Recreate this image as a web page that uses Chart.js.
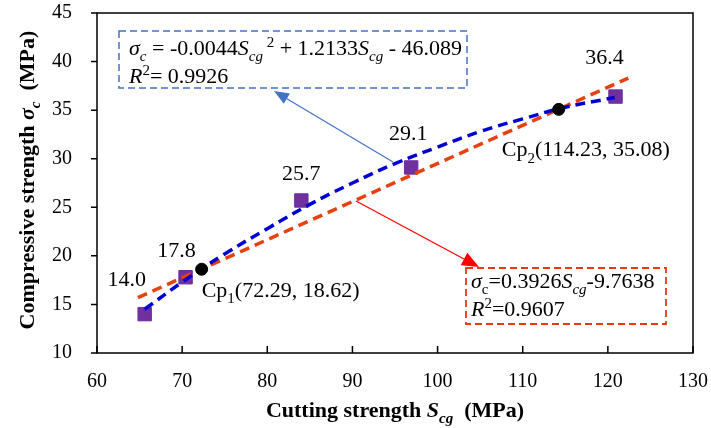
<!DOCTYPE html>
<html>
<head>
<meta charset="utf-8">
<script src="https://cdn.jsdelivr.net/npm/chart.js@4.4.0/dist/chart.umd.min.js"></script>
<style>
  html, body { margin: 0; padding: 0; background: #fff; }
  #wrap { width: 711px; height: 428px; }
</style>
</head>
<body>
<div id="wrap"><canvas id="myChart"></canvas></div>
<script>
'use strict';

// DANE

var cuttingStrength = [65.6, 70.4, 84.0, 96.9, 120.9];
var compressiveStrength = [14.0, 17.8, 25.7, 29.1, 36.4];
var valueLabels = ['14.0', '17.8', '25.7', '29.1', '36.4'];

// quadratic fit (blue)
var quadX = [65.6, 70, 75, 80, 85, 90, 95, 100, 105, 110, 115, 120.8];
var quadY = [14.5, 17.3, 20.2, 22.8, 25.3, 27.5, 29.5, 31.2, 32.8, 34.1, 35.3, 36.3];

// linear fit (red)
var linX = [64.8, 122.4];
var linY = [15.7, 38.3];

// critical points
var cpX = [72.29, 114.23];
var cpY = [18.62, 35.08];
var cpNames = ['1', '2'];

var xTicks = [60, 70, 80, 90, 100, 110, 120, 130];
var yTicks = [10, 15, 20, 25, 30, 35, 40, 45];

var FONT = "'Liberation Serif', 'Times New Roman', serif";
var NOTE = 22;

function toPoints(xs, ys) {
  return xs.map(function(x, i) { return { x: x, y: ys[i] }; });
}

// rich text: runs of {t, f, s}
function drawRich(ctx, runs, x, y, size, align) {
  var sub = Math.round(size * 0.68);
  function fontOf(r) {
    var sz = r.s ? sub : size;
    return (r.f || '') + ' ' + sz + 'px ' + FONT;
  }
  var total = 0;
  runs.forEach(function(r) {
    ctx.font = fontOf(r);
    total += ctx.measureText(r.t).width;
  });
  var cx = x;
  if (align === 'center') cx = x - total / 2;
  ctx.textAlign = 'left';
  ctx.textBaseline = 'alphabetic';
  runs.forEach(function(r) {
    ctx.font = fontOf(r);
    var dy = 0;
    if (r.s === 'sub') dy = size * 0.28;
    if (r.s === 'sup') dy = -size * 0.38;
    ctx.fillText(r.t, cx, y + dy);
    cx += ctx.measureText(r.t).width;
  });
  return total;
}

function arrow(ctx, x1, y1, x2, y2, color, lw, len, half) {
  var a = Math.atan2(y2 - y1, x2 - x1);
  var bx = x2 - Math.cos(a) * len, by = y2 - Math.sin(a) * len;
  ctx.save();
  ctx.strokeStyle = color;
  ctx.fillStyle = color;
  ctx.lineWidth = lw;
  ctx.beginPath();
  ctx.moveTo(x1, y1);
  ctx.lineTo(bx, by);
  ctx.stroke();
  ctx.beginPath();
  ctx.moveTo(x2, y2);
  ctx.lineTo(bx + Math.sin(a) * half, by - Math.cos(a) * half);
  ctx.lineTo(bx - Math.sin(a) * half, by + Math.cos(a) * half);
  ctx.closePath();
  ctx.fill();
  ctx.restore();
}

// ramka i ticki
var framePlugin = {
  id: 'frame',
  beforeDatasetsDraw: function(chart) {
    var ctx = chart.ctx, a = chart.chartArea;
    var xs = chart.scales.x, ys = chart.scales.y;
    ctx.save();
    ctx.strokeStyle = '#000';
    ctx.lineWidth = 1.5;
    ctx.strokeRect(a.left, a.top, a.right - a.left, a.bottom - a.top);
    ctx.beginPath();
    yTicks.forEach(function(v) {
      var py = ys.getPixelForValue(v);
      ctx.moveTo(a.left - 6, py);
      ctx.lineTo(a.left, py);
    });
    xTicks.forEach(function(v) {
      var px = xs.getPixelForValue(v);
      ctx.moveTo(px, a.bottom);
      ctx.lineTo(px, a.bottom - 7);
    });
    ctx.stroke();
    ctx.restore();
  }
};

// opisy, ramki rownan, strzalki
var notesPlugin = {
  id: 'notes',
  afterDatasetsDraw: function(chart) {
    var ctx = chart.ctx, a = chart.chartArea;
    var xs = chart.scales.x, ys = chart.scales.y;
    ctx.save();
    ctx.fillStyle = '#000';

    // value labels
    var offs = [[-18, -28], [-9, -20], [0, -20], [-3, -27], [-11, -33]];
    cuttingStrength.forEach(function(v, i) {
      var px = xs.getPixelForValue(v), py = ys.getPixelForValue(compressiveStrength[i]);
      drawRich(ctx, [{ t: valueLabels[i] }], px + offs[i][0], py + offs[i][1], NOTE, 'center');
    });

    // Cp labels
    var cpOffs = [[0, 28], [-57, 47]];
    cpX.forEach(function(v, i) {
      var px = xs.getPixelForValue(v), py = ys.getPixelForValue(cpY[i]);
      drawRich(ctx, [
        { t: 'Cp' }, { t: cpNames[i], s: 'sub' },
        { t: '(' + cpX[i].toFixed(2) + ', ' + cpY[i].toFixed(2) + ')' }
      ], px + cpOffs[i][0], py + cpOffs[i][1], NOTE);
    });

    // blue equation box
    ctx.strokeStyle = '#4472C4';
    ctx.lineWidth = 1.5;
    ctx.setLineDash([7, 4]);
    ctx.strokeRect(119, 31, 348, 57);
    drawRich(ctx, [
      { t: 'σ', f: 'italic' }, { t: 'c', f: 'italic', s: 'sub' },
      { t: ' = -0.0044' }, { t: 'S', f: 'italic' }, { t: 'cg', f: 'italic', s: 'sub' },
      { t: ' 2', s: 'sup' }, { t: ' + 1.2133' }, { t: 'S', f: 'italic' },
      { t: 'cg', f: 'italic', s: 'sub' }, { t: ' - 46.089' }
    ], 129, 55, NOTE);
    drawRich(ctx, [
      { t: 'R', f: 'italic' }, { t: '2', s: 'sup' }, { t: '= 0.9926' }
    ], 129, 83, NOTE);

    // red equation box
    ctx.strokeStyle = '#E8380D';
    ctx.lineWidth = 1.8;
    ctx.setLineDash([7, 4]);
    ctx.strokeRect(466, 268, 200, 56);
    drawRich(ctx, [
      { t: 'σ', f: 'italic' }, { t: 'c', s: 'sub' }, { t: '=0.3926' },
      { t: 'S', f: 'italic' }, { t: 'cg', f: 'italic', s: 'sub' }, { t: '-9.7638' }
    ], 471, 288, NOTE);
    drawRich(ctx, [
      { t: 'R', f: 'italic' }, { t: '2', s: 'sup' }, { t: '=0.9607' }
    ], 471, 316, NOTE);
    ctx.setLineDash([]);

    arrow(ctx, 393, 162, 274, 91, '#4472C4', 1.2, 15, 6);
    arrow(ctx, 356, 201, 479, 267, '#FF0000', 1.2, 17, 7);

    // axis titles
    drawRich(ctx, [
      { t: 'Cutting strength ', f: 'bold' }, { t: 'S', f: 'italic bold' },
      { t: 'cg', f: 'italic bold', s: 'sub' }, { t: '  (MPa)', f: 'bold' }
    ], (a.left + a.right) / 2, 417, 22, 'center');

    ctx.translate(34, (a.top + a.bottom) / 2 - 3);
    ctx.rotate(-Math.PI / 2);
    drawRich(ctx, [
      { t: 'Compressive strength ', f: 'bold' }, { t: 'σ', f: 'italic bold' },
      { t: 'c', f: 'italic bold', s: 'sub' }, { t: '  (MPa)', f: 'bold' }
    ], 0, 0, 22, 'center');
    ctx.restore();
  }
};

var ctx = document.getElementById('myChart').getContext('2d');

var chart = new Chart(ctx, {
  type: 'scatter',
  data: {
    datasets: [
      {
        label: 'Cp',
        data: toPoints(cpX, cpY),
        pointStyle: 'circle',
        pointRadius: 6,
        backgroundColor: '#000',
        borderColor: '#000',
        order: 0
      },
      {
        label: 'Quadratic fit',
        data: toPoints(quadX, quadY),
        showLine: true,
        tension: 0.4,
        borderColor: '#0000D0',
        borderWidth: 3.5,
        borderDash: [10, 6],
        pointRadius: 0,
        order: 1
      },
      {
        label: 'Linear fit',
        data: toPoints(linX, linY),
        showLine: true,
        borderColor: '#E8400F',
        borderWidth: 3.5,
        borderDash: [10, 6],
        pointRadius: 0,
        order: 2
      },
      {
        label: 'Measured',
        data: toPoints(cuttingStrength, compressiveStrength),
        pointStyle: 'rect',
        pointRadius: 9.5,
        backgroundColor: '#7030A0',
        borderColor: '#7030A0',
        order: 3
      }
    ]
  },
  options: {
    responsive: true,
    maintainAspectRatio: false,
    animation: false,
    events: [],
    layout: { padding: { left: 0, right: 18, top: 13, bottom: 0 } },
    plugins: {
      legend: { display: false },
      tooltip: { enabled: false }
    },
    scales: {
      x: {
        type: 'linear',
        min: 60,
        max: 130,
        afterBuildTicks: function(s) { s.ticks = xTicks.map(function(v) { return { value: v }; }); },
        afterFit: function(s) { s.height = 75; s.paddingLeft = 0; s.paddingRight = 0; },
        grid: { display: false, drawTicks: false },
        border: { display: false },
        ticks: { color: '#000', padding: 17, font: { family: FONT, size: 20 } }
      },
      y: {
        type: 'linear',
        min: 10,
        max: 45,
        afterBuildTicks: function(s) { s.ticks = yTicks.map(function(v) { return { value: v }; }); },
        afterFit: function(s) { s.width = 97; s.paddingTop = 0; s.paddingBottom = 0; },
        grid: { display: false, drawTicks: false },
        border: { display: false },
        ticks: { color: '#000', padding: 25, font: { family: FONT, size: 20 } }
      }
    }
  },
  plugins: [framePlugin, notesPlugin]
});
</script>
</body>
</html>
